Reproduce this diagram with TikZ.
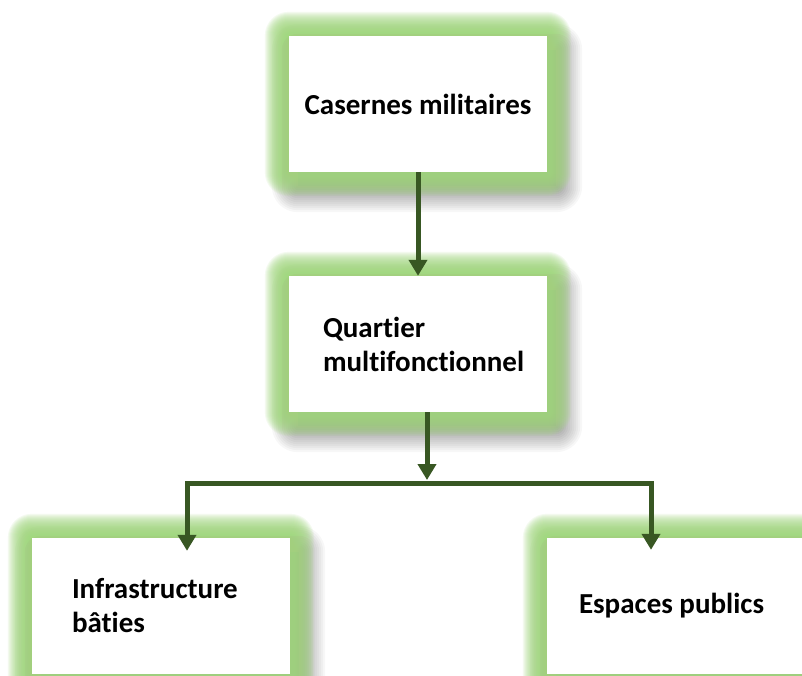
\documentclass[tikz,border=0pt]{standalone}
\usepackage{fontspec}
\setmainfont{Carlito}[Ligatures=NoCommon]
\usetikzlibrary{arrows.meta}
\pgfdeclarelayer{bg}
\pgfsetlayers{bg,main}
\definecolor{glowgreen}{RGB}{162,216,126}
\definecolor{arrgreen}{RGB}{56,87,35}
\newcommand\decobox[1]{%
  \begin{pgfonlayer}{bg}
    \foreach \i in {0,2,...,26}{
      \fill[black,opacity=0.03,rounded corners=\i pt]
        ([xshift=9pt-\i pt,yshift=-14pt-\i pt]#1.south west) rectangle
        ([xshift=9pt+\i pt,yshift=-14pt+\i pt]#1.north east);
    }
    \foreach \i in {1,...,24}{
      \fill[glowgreen,opacity=0.11,rounded corners=\i pt]
        ([xshift=-\i pt,yshift=-\i pt]#1.south west) rectangle
        ([xshift=\i pt,yshift=\i pt]#1.north east);
    }
  \end{pgfonlayer}}
\begin{document}
\begin{tikzpicture}[x=1pt,y=-1pt,
  box/.style={fill=white,minimum width=258pt,minimum height=136pt,
    inner ysep=0pt,font=\bfseries\fontsize{29}{34}\selectfont},
  arr/.style={draw=arrgreen,line width=5pt,line join=miter,
    -{Triangle[width=18pt,length=16pt]}},
  link/.style={draw=arrgreen,line width=5pt}]
\begin{pgfonlayer}{bg}
\fill[white] (0,0) rectangle (802,676);
\end{pgfonlayer}
\useasboundingbox (0,0) rectangle (802,676);

\node[box,align=center,inner xsep=0pt] (cas) at (418,104) {Casernes militaires};
\node[box,align=flush left,inner xsep=34pt,text width=190pt] (quar) at (418,344)
  {Quartier\\multifonctionnel};
\node[box,align=flush left,inner xsep=40pt,text width=178pt] (infra) at (161,606)
  {Infrastructure\\bâties};
\node[box,align=flush left,inner xsep=32pt,text width=194pt] (esp) at (676,606) {Espaces publics};

\decobox{cas}
\decobox{quar}
\decobox{infra}
\decobox{esp}

\coordinate (hub) at (427,483);
\coordinate (hl) at (187,483);
\coordinate (hr) at (651,483);

\draw[arr] (cas.south) -- (quar.north);
\draw[arr,shorten >=3pt] (hub |- quar.south) -- (hub);
\draw[link] (hl) -- (hr);
\draw[arr,shorten >=-13pt] (hub) -- (hl) -- (hl |- infra.north);
\draw[arr,shorten >=-12pt] (hub) -- (hr) -- (hr |- esp.north);
\end{tikzpicture}
\end{document}
